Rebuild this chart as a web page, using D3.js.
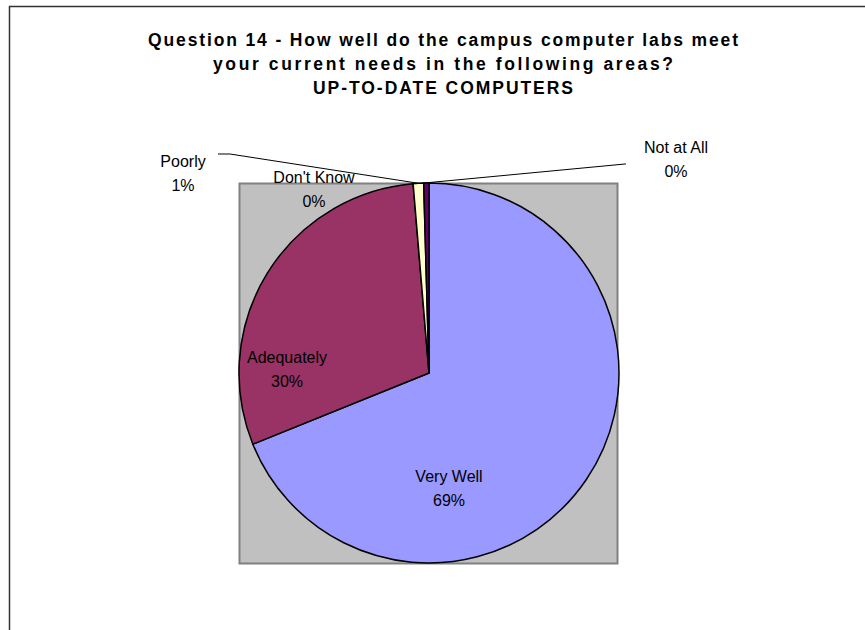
<!DOCTYPE html>
<html>
<head>
<meta charset="utf-8">
<script src="https://cdn.jsdelivr.net/npm/d3@7"></script>
<style>
  body { margin: 0; background: #fff; }
  svg text { font-family: "Liberation Sans", Arial, sans-serif; }
</style>
</head>
<body>
<div id="chart"></div>
<script>
// data (response counts, Excel order starting at 12 o'clock)
const categories = ["Very Well", "Adequately", "Poorly", "Not at All", "Don't Know"];
const counts = [155, 67, 2, 0, 1];
const colors = ["#9999FF", "#993366", "#FFFFCC", "#CCFFFF", "#660066"];
const titleLines = [
  "Question 14 - How well do the campus computer labs meet",
  "your current needs in the following areas?",
  "UP-TO-DATE COMPUTERS"
];
const titleWidths = [590, 460, 260];

const W = 865, H = 630;
const cx = 429, cy = 373, r = 190;

const svg = d3.select("#chart").append("svg")
  .attr("width", W).attr("height", H);

// chart frame (only top and left edges visible)
svg.append("rect")
  .attr("x", 9.5).attr("y", 6.5)
  .attr("width", 900).attr("height", 700)
  .attr("fill", "none").attr("stroke", "#333").attr("stroke-width", 1.5);

// title
svg.append("g").selectAll("text")
  .data(titleLines).join("text")
  .attr("x", 443).attr("y", (d, i) => 46 + i * 24)
  .attr("text-anchor", "middle")
  .attr("font-size", 17.5).attr("font-weight", "bold")
  .attr("textLength", (d, i) => titleWidths[i])
  .attr("lengthAdjust", "spacing")
  .text(d => d);

// plot area
svg.append("rect")
  .attr("x", cx - r + 0.5).attr("y", cy - r + 0.5)
  .attr("width", 2 * r - 2).attr("height", 2 * r)
  .attr("fill", "#C0C0C0").attr("stroke", "#808080").attr("stroke-width", 2);

const total = d3.sum(counts);
const pct = v => Math.round(v / total * 100) + "%";

const pie = d3.pie().sort(null).value(d => d.v)
  .startAngle(0).endAngle(2 * Math.PI);
const arcs = pie(categories.map((c, i) => ({c, v: counts[i], col: colors[i]})));
const arc = d3.arc().innerRadius(0).outerRadius(r);

const g = svg.append("g").attr("transform", `translate(${cx},${cy})`);
g.selectAll("path").data(arcs.filter(a => a.data.v > 0)).join("path")
  .attr("d", arc)
  .attr("fill", d => d.data.col)
  .attr("stroke", "#000").attr("stroke-width", 1.5)
  .attr("stroke-linejoin", "round");

// label placement (Excel-style): offsets in px from centre
const labelPos = {
  "Very Well": [20, 109],
  "Adequately": [-142, -10],
  "Poorly": [-246, -206],
  "Not at All": [247, -220],
  "Don't Know": [-115, -190]
};
const leader = {
  "Poorly": [[-211, -219], [-199, -219]],
  "Not at All": [[197, -209], [196, -209]]
};

arcs.forEach(a => {
  const name = a.data.c;
  const [lx, ly] = labelPos[name];
  const t = g.append("text")
    .attr("text-anchor", "middle")
    .attr("font-size", 16);
  t.append("tspan").attr("x", lx).attr("y", ly).text(name);
  t.append("tspan").attr("x", lx).attr("y", ly + 24).text(pct(a.data.v));
  if (leader[name]) {
    const mid = (a.startAngle + a.endAngle) / 2;
    const end = [Math.sin(mid) * r, -Math.cos(mid) * r];
    g.append("path")
      .attr("d", d3.line()([...leader[name], end]))
      .attr("fill", "none").attr("stroke", "#000").attr("stroke-width", 1);
  }
});
</script>
</body>
</html>
